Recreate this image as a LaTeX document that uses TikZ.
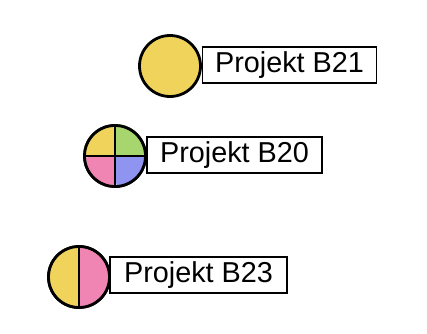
\documentclass[tikz,border=0pt]{standalone}
\usepackage{fontspec}
\setmainfont{Liberation Sans}
\definecolor{cyel}{RGB}{240,211,90}
\definecolor{cgrn}{RGB}{168,214,110}
\definecolor{cpnk}{RGB}{240,133,180}
\definecolor{cblu}{RGB}{143,148,240}
\tikzset{
  label box/.style={draw=black, line width=1.6pt, fill=white, minimum height=36pt, inner sep=0pt, font=\fontsize{28.8}{30}\selectfont, text=black},
  disc/.style={circle, draw=black, line width=2.8pt, inner sep=0pt, minimum size=61pt},
  divider/.style={draw=black, line width=2.8pt}
}
\begin{document}
\begin{tikzpicture}[x=1pt,y=1pt]
\useasboundingbox (0,0) rectangle (427,333);
% B21
\node[disc, fill=cyel] (c1) at (170,267) {};
\node[label box, minimum width=174pt] (b1) at (289.5,268) {Projekt B21};
% B20
\node[disc] (c2) at (115,177) {};
\fill[cyel] (c2.center) -- (c2.west) arc (180:90:30.5) -- cycle;
\fill[cgrn] (c2.center) -- (c2.north) arc (90:0:30.5) -- cycle;
\fill[cblu] (c2.center) -- (c2.east) arc (0:-90:30.5) -- cycle;
\fill[cpnk] (c2.center) -- (c2.south) arc (270:180:30.5) -- cycle;
\draw[divider] (c2.west) -- (c2.east);
\draw[divider] (c2.north) -- (c2.south);
\node[disc] at (c2.center) {};
\node[label box, minimum width=175pt] (b2) at (234.5,178) {Projekt B20};
% B23
\node[disc] (c3) at (79,56) {};
\fill[cyel] (c3.north) arc (90:270:30.5) -- cycle;
\fill[cpnk] (c3.south) arc (-90:90:30.5) -- cycle;
\draw[divider] (c3.north) -- (c3.south);
\node[disc] at (c3.center) {};
\node[label box, minimum width=177pt] (b3) at (198.5,58) {Projekt B23};
\end{tikzpicture}
\end{document}
